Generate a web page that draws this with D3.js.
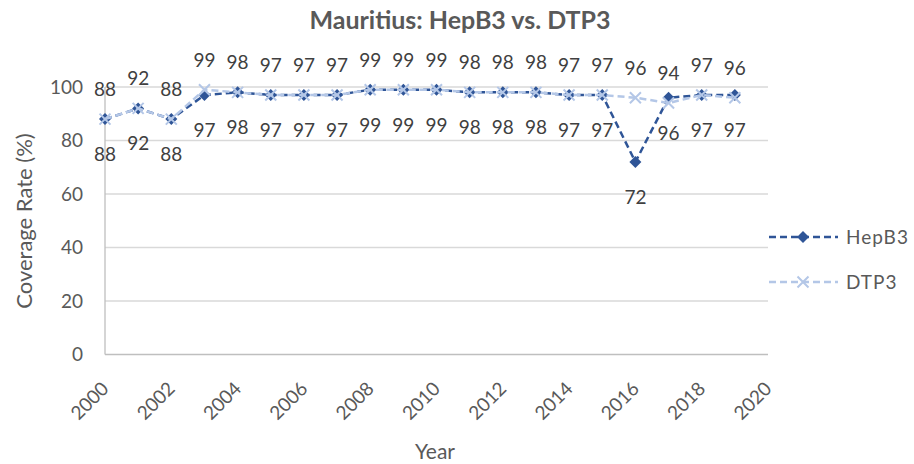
<!DOCTYPE html>
<html>
<head>
<meta charset="utf-8">
<script src="https://cdn.jsdelivr.net/npm/d3@7"></script>
<style>
    body { margin: 0; background: #fff; }
    text { font-family: Lato, "Open Sans", sans-serif; }
</style>
</head>
<body>
<svg id="chart" width="914" height="464"></svg>
<script>
// data
const years = [2000, 2001, 2002, 2003, 2004, 2005, 2006, 2007, 2008, 2009,
    2010, 2011, 2012, 2013, 2014, 2015, 2016, 2017, 2018, 2019]
const hepB3 = [88, 92, 88, 97, 98, 97, 97, 97, 99, 99, 99, 98, 98, 98, 97, 97, 72, 96, 97, 97]
const dtp3 = [88, 92, 88, 99, 98, 97, 97, 97, 99, 99, 99, 98, 98, 98, 97, 97, 96, 94, 97, 96]
const xTicks = [2000, 2002, 2004, 2006, 2008, 2010, 2012, 2014, 2016, 2018, 2020]
const yTicks = [0, 20, 40, 60, 80, 100]

const seriesList = [
    { name: "HepB3", values: hepB3, color: "#2F5597", marker: "diamond", labelDy: 42 },
    { name: "DTP3", values: dtp3, color: "#B4C7E7", marker: "cross", labelDy: -23 }
]

const svg = d3.select("#chart")
const x = d3.scaleLinear().domain([2000, 2020]).range([105, 768])
const y = d3.scaleLinear().domain([0, 100]).range([354.5, 87])

// title
svg.append("text")
    .attr("x", 460).attr("y", 29)
    .attr("text-anchor", "middle")
    .attr("font-size", 25).attr("font-weight", "bold")
    .attr("fill", "#595959")
    .text("Mauritius: HepB3 vs. DTP3")

// gridlines
svg.append("g").selectAll("line")
    .data(yTicks.filter(d => d > 0))
    .enter().append("line")
    .attr("x1", x(2000)).attr("x2", x(2020))
    .attr("y1", d => y(d)).attr("y2", d => y(d))
    .attr("stroke", "#d9d9d9").attr("stroke-width", 1.3)

// axes lines
svg.append("line")
    .attr("x1", x(2000)).attr("x2", x(2020))
    .attr("y1", y(0)).attr("y2", y(0))
    .attr("stroke", "#bfbfbf").attr("stroke-width", 1.3)
svg.append("line")
    .attr("x1", x(2000)).attr("x2", x(2000))
    .attr("y1", y(0)).attr("y2", y(100))
    .attr("stroke", "#bfbfbf").attr("stroke-width", 1.3)

// y tick labels
svg.append("g").selectAll("text")
    .data(yTicks)
    .enter().append("text")
    .attr("x", 83).attr("y", d => y(d))
    .attr("dy", "0.36em")
    .attr("text-anchor", "end")
    .attr("font-size", 19).attr("fill", "#595959")
    .text(d => d)

// x tick labels, rotated
svg.append("g").selectAll("text")
    .data(xTicks)
    .enter().append("text")
    .attr("transform", d => "translate(" + x(d) + ",385) rotate(-45)")
    .attr("dy", "0.36em")
    .attr("text-anchor", "end")
    .attr("font-size", 19).attr("fill", "#595959")
    .text(d => d)

// axis titles
svg.append("text")
    .attr("transform", "translate(32,221) rotate(-90)")
    .attr("text-anchor", "middle")
    .attr("font-size", 22).attr("fill", "#595959")
    .text("Coverage Rate (%)")
svg.append("text")
    .attr("x", 435).attr("y", 459)
    .attr("text-anchor", "middle")
    .attr("font-size", 21).attr("fill", "#595959")
    .text("Year")

const line = d3.line()
    .x((d, i) => x(years[i]))
    .y(d => y(d))

function drawMarker(g, type, color) {
    if (type == "diamond") {
        g.append("path")
            .attr("d", "M0,-6L6,0L0,6L-6,0Z")
            .attr("fill", color)
    } else {
        g.append("path")
            .attr("d", "M-5.5,-5.5L5.5,5.5M-5.5,5.5L5.5,-5.5")
            .attr("stroke", color).attr("stroke-width", 2)
            .attr("fill", "none")
    }
}

seriesList.forEach(s => {
    svg.append("path")
        .datum(s.values)
        .attr("d", line)
        .attr("fill", "none")
        .attr("stroke", s.color)
        .attr("stroke-width", 2.5)
        .attr("stroke-dasharray", "7,4")

    svg.append("g").selectAll("g")
        .data(s.values)
        .enter().append("g")
        .attr("transform", (d, i) => "translate(" + x(years[i]) + "," + y(d) + ")")
        .each(function () { drawMarker(d3.select(this), s.marker, s.color) })
})

// data labels
seriesList.forEach(s => {
    svg.append("g").selectAll("text")
        .data(s.values)
        .enter().append("text")
        .attr("x", (d, i) => x(years[i]))
        .attr("y", d => y(d) + s.labelDy)
        .attr("text-anchor", "middle")
        .attr("font-size", 19).attr("fill", "#404040")
        .text(d => d)
})

// legend
const legend = svg.append("g").selectAll("g")
    .data(seriesList)
    .enter().append("g")
    .attr("transform", (d, i) => "translate(769," + (237 + i * 45) + ")")

legend.append("line")
    .attr("x1", 0).attr("x2", 69)
    .attr("stroke", d => d.color)
    .attr("stroke-width", 2.5)
    .attr("stroke-dasharray", "7,4")
legend.append("g")
    .attr("transform", "translate(34,0)")
    .each(function (d) { drawMarker(d3.select(this), d.marker, d.color) })
legend.append("text")
    .attr("x", 77).attr("dy", "0.36em")
    .attr("font-size", 19).attr("fill", "#595959")
    .attr("letter-spacing", 1)
    .text(d => d.name)
</script>
</body>
</html>
